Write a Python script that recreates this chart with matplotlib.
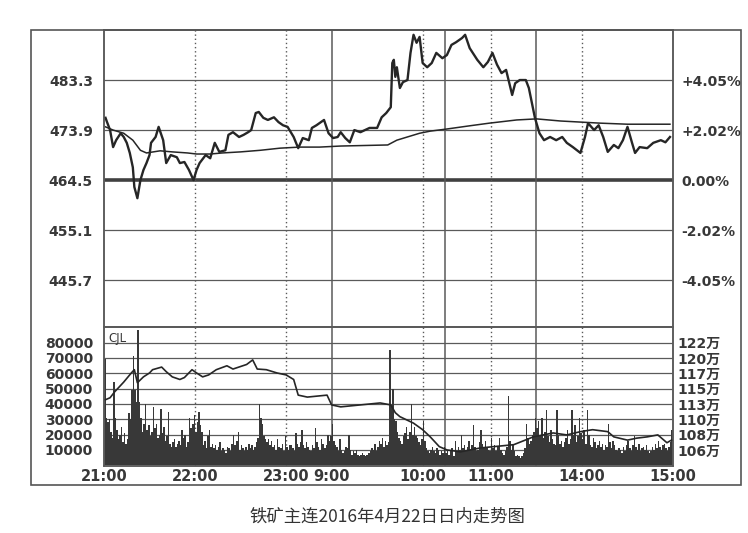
import matplotlib
matplotlib.use("Agg")
import matplotlib.pyplot as plt
from matplotlib.patches import Rectangle

plt.rcParams['font.family'] = ['DejaVu Sans', 'Noto Sans CJK SC']

# minutes since 21:00 on a compressed trading-time axis
# night 21:00-23:30 (0-150), 9:00-10:15 (150-225), 10:30-11:30 (225-285), 13:30-15:00 (285-375)
tick_pos = [0, 60, 120, 150, 210, 255, 315, 375]
tick_labels = ["21:00", "22:00", "23:00", "9:00", "10:00", "11:00", "14:00", "15:00"]
dotted_at = [60, 120, 210, 255, 315]
solid_at = [150, 225, 285]

base_price = 464.5
price_ticks = [445.7, 455.1, 464.5, 473.9, 483.3]
pct_labels = ["-4.05%", "-2.02%", "0.00%", "+2.02%", "+4.05%"]

price_min = [1, 2, 4, 6, 8, 11, 13, 15, 17, 19, 20, 22, 24, 26, 28, 30, 31, 34, 36, 39,
             41, 44, 48, 50, 53, 56, 59, 61, 63, 67, 70, 73, 76, 80, 82, 85, 89, 92, 95, 97,
             100, 102, 105, 108, 112, 115, 118, 121, 125, 128, 131, 135, 137, 140, 145, 148,
             151, 154, 156, 159, 162, 165, 169, 172, 175, 180, 183, 186, 189, 190, 191, 192,
             193, 195, 197, 200, 202, 204, 206, 208, 210, 213, 216, 219, 223, 226, 229, 232,
             236, 238, 241, 246, 250, 253, 256, 259, 262, 265, 269, 271, 274, 278, 280, 282,
             284, 287, 290, 294, 298, 302, 305, 309, 314, 317, 319, 323, 326, 329, 332, 336,
             339, 342, 345, 348, 350, 353, 358, 362, 367, 370, 373]
price = [476.2, 475.4, 473.9, 470.7, 472.0, 473.3, 472.6, 471.5, 469.6, 466.9, 463.2, 461.1,
         464.5, 466.4, 467.7, 469.2, 471.5, 472.6, 474.5, 472.0, 467.7, 469.2, 468.8, 467.7,
         467.9, 466.4, 464.5, 466.4, 467.7, 469.2, 468.6, 471.5, 469.8, 470.1, 473.0, 473.5,
         472.6, 473.0, 473.5, 473.9, 477.1, 477.3, 476.2, 475.8, 476.3, 475.4, 474.8, 474.5,
         472.6, 470.5, 472.4, 472.0, 474.3, 474.8, 475.8, 473.3, 472.4, 472.6, 473.5, 472.4,
         471.6, 473.9, 473.5, 473.9, 474.3, 474.3, 476.3, 477.1, 478.2, 486.5, 487.1, 483.9,
         485.7, 481.8, 482.9, 483.3, 488.4, 491.8, 490.3, 491.4, 486.5, 485.7, 486.5, 488.4,
         487.4, 488.0, 489.9, 490.4, 491.2, 491.8, 489.3, 487.1, 485.7, 486.7, 488.4, 486.2,
         484.6, 485.2, 480.5, 482.7, 483.3, 483.3, 481.8, 479.0, 476.2, 473.3, 472.0, 472.6,
         472.0, 472.6, 471.5, 470.7, 469.6, 472.6, 475.2, 473.9, 474.8, 472.6, 469.8, 471.1,
         470.5, 472.0, 474.5, 471.5, 469.6, 470.7, 470.5, 471.5, 472.0, 471.6, 472.6]

avg_min = [1, 6, 13, 19, 24, 28, 37, 45, 55, 61, 70, 78, 90, 103, 116, 129, 142, 156, 187,
           193, 208, 215, 226, 241, 254, 272, 285, 301, 314, 327, 345, 373]
avg_price = [474.5, 473.9, 473.3, 472.0, 470.1, 469.6, 470.0, 469.8, 469.6, 469.4, 469.4,
             469.6, 469.8, 470.1, 470.5, 470.7, 470.7, 470.9, 471.1, 472.0, 473.3, 473.7,
             474.1, 474.7, 475.2, 475.8, 476.0, 475.6, 475.4, 475.2, 475.0, 475.0]

# volume per minute, thousands of lots
volume_k = [
    69, 31, 28, 30, 22, 18, 54, 31, 23, 17, 20, 25, 15, 21, 14,
    17, 34, 30, 49, 71, 49, 41, 88, 41, 31, 22, 27, 40, 23, 26,
    19, 22, 38, 24, 27, 18, 20, 37, 21, 25, 16, 19, 35, 14, 12,
    15, 17, 12, 14, 16, 13, 23, 18, 20, 12, 15, 31, 24, 27, 33,
    22, 28, 35, 26, 22, 13, 16, 11, 19, 23, 12, 14, 11, 13, 10,
    12, 15, 9, 11, 10, 8, 12, 11, 9, 14, 20, 13, 16, 22, 10,
    13, 11, 9, 12, 10, 14, 11, 13, 10, 12, 15, 18, 40, 31, 27,
    19, 17, 15, 17, 13, 16, 12, 13, 10, 17, 12, 11, 14, 9, 19,
    12, 10, 13, 13, 11, 9, 21, 14, 12, 15, 23, 13, 11, 15, 12,
    10, 9, 13, 11, 24, 15, 12, 10, 17, 14, 11, 13, 20, 16, 19,
    27, 16, 13, 12, 9, 17, 10, 8, 9, 12, 11, 20, 10, 7, 9,
    8, 10, 7, 6, 7, 8, 7, 6, 7, 8, 9, 11, 10, 14, 9,
    12, 16, 14, 18, 12, 16, 13, 15, 75, 38, 50, 30, 29, 22, 18,
    16, 14, 19, 21, 25, 17, 22, 40, 20, 25, 19, 18, 15, 13, 17,
    29, 16, 11, 9, 8, 10, 12, 9, 8, 11, 10, 7, 9, 8, 12,
    8, 9, 7, 10, 11, 6, 16, 9, 12, 10, 20, 11, 13, 9, 12,
    16, 10, 13, 26, 12, 9, 10, 15, 23, 14, 11, 16, 12, 10, 9,
    18, 11, 13, 9, 12, 18, 10, 8, 7, 9, 12, 45, 16, 10, 13,
    9, 6, 7, 6, 5, 6, 8, 11, 27, 18, 14, 16, 20, 22, 31,
    24, 29, 20, 31, 18, 22, 36, 19, 15, 23, 17, 14, 13, 36, 20,
    14, 16, 12, 15, 18, 23, 14, 17, 36, 20, 26, 15, 19, 31, 21,
    17, 23, 14, 36, 20, 13, 12, 18, 15, 11, 13, 16, 12, 14, 10,
    13, 12, 27, 15, 11, 16, 13, 10, 9, 11, 10, 8, 12, 9, 13,
    16, 11, 9, 13, 19, 12, 10, 14, 9, 11, 12, 10, 13, 9, 8,
    9, 12, 10, 14, 11, 16, 12, 10, 13, 14, 11, 9, 12, 15, 23,
]

vol_ticks = [10000, 20000, 30000, 40000, 50000, 60000, 70000, 80000]
oi_labels = ["106万", "108万", "110万", "113万", "115万", "117万", "120万", "122万"]

# open interest, 万 lots
oi_min = [1, 4, 7, 13, 18, 20, 22, 26, 30, 32, 38, 41, 45, 50, 53, 58, 61, 65, 69, 74, 81,
          85, 94, 98, 101, 107, 114, 120, 125, 128, 134, 147, 150, 156, 182, 189, 192, 195,
          204, 210, 215, 221, 226, 235, 248, 270, 283, 296, 305, 314, 322, 332, 336, 345,
          351, 358, 365, 371, 374]
oi = [113.7, 114.0, 114.9, 116.4, 117.8, 118.3, 116.3, 117.2, 117.8, 118.3, 118.7, 118.0,
      117.2, 116.8, 117.1, 118.3, 117.8, 117.2, 117.5, 118.3, 118.9, 118.4, 119.1, 119.8,
      118.4, 118.3, 117.8, 117.5, 116.8, 114.4, 114.1, 114.4, 112.9, 112.6, 113.2, 112.9,
      111.7, 111.1, 110.1, 109.1, 108.0, 106.5, 106.0, 105.7, 106.3, 106.8, 108.0, 108.6,
      108.3, 108.8, 109.1, 108.8, 108.0, 107.5, 107.8, 108.0, 108.3, 107.1, 107.5]

W, H = 748, 533
fig = plt.figure(figsize=(W / 100, H / 100), dpi=100)

def fx(px):
    return px / W

def fy(py):
    return 1 - py / H

left, right = 104, 673
top, mid, bottom = 30, 327, 466
ax = fig.add_axes([fx(left), fy(mid), fx(right - left), fy(top) - fy(mid)])
axv = fig.add_axes([fx(left), fy(bottom), fx(right - left), fy(mid) - fy(bottom)])

line_c = '#262626'
grid_c = '#5a5a5a'
text_c = '#383838'
lab_size = 10

# price panel
ax.set_xlim(0, 375)
ax.set_ylim(436.9, 492.7)
for p in price_ticks:
    if p == base_price:
        ax.axhline(p, color='#404040', lw=2.6, zorder=1)
    else:
        ax.axhline(p, color=grid_c, lw=0.9, zorder=1)
for x in dotted_at:
    ax.axvline(x, color=grid_c, lw=1.0, ls=(0, (1, 2)), zorder=1)
    axv.axvline(x, color=grid_c, lw=1.0, ls=(0, (1, 2)), zorder=1)
for x in solid_at:
    ax.axvline(x, color=grid_c, lw=1.1, zorder=1)
    axv.axvline(x, color=grid_c, lw=1.1, zorder=1)

ax.plot(avg_min, avg_price, color=line_c, lw=1.1, zorder=3)
ax.plot(price_min, price, color=line_c, lw=1.7, zorder=4)

ax.set_yticks(price_ticks)
ax.set_yticklabels([f"{p:.1f}" for p in price_ticks])
ax.set_xticks([])
ax.tick_params(axis='y', length=0, pad=8, labelsize=lab_size, labelcolor=text_c)
for lab in ax.get_yticklabels():
    lab.set_fontweight('bold')

axp = ax.twinx()
axp.set_ylim(ax.get_ylim())
axp.set_yticks(price_ticks)
axp.set_yticklabels(pct_labels)
axp.tick_params(axis='y', length=0, pad=6, labelsize=lab_size, labelcolor=text_c)
for lab in axp.get_yticklabels():
    lab.set_fontweight('bold')

for a in (ax, axp):
    for s in a.spines.values():
        s.set_color(grid_c)
        s.set_linewidth(1.1)

# volume panel
axv.set_xlim(0, 375)
axv.set_ylim(-500, 90200)
for v in vol_ticks:
    axv.axhline(v, color=grid_c, lw=0.9, zorder=1)
axv.bar([i + 0.5 for i in range(len(volume_k))], [v * 1000 for v in volume_k],
        width=1.0, color='#383838', edgecolor='none', zorder=2)
axv.set_yticks(vol_ticks)
axv.set_yticklabels([str(v) for v in vol_ticks])
axv.set_xticks(tick_pos)
axv.set_xticklabels(tick_labels)
axv.tick_params(axis='y', length=0, pad=8, labelsize=lab_size, labelcolor=text_c)
axv.tick_params(axis='x', length=0, pad=2, labelsize=10.5, labelcolor=text_c)
for lab in axv.get_yticklabels() + axv.get_xticklabels():
    lab.set_fontweight('bold')
axv.text(3, 87000, "CJL", fontsize=8.5, color=text_c, va='top', ha='left')

# open interest on right scale: gridline k <-> 106 + k*2.35 万
axo = axv.twinx()
lo = 106 + (-500 / 10000 - 1) * 2.35
hi = 106 + (90200 / 10000 - 1) * 2.35
axo.set_ylim(lo, hi)
axo.plot(oi_min, oi, color=line_c, lw=1.2, zorder=3)
axo.set_yticks([106 + k * 2.35 for k in range(8)])
axo.set_yticklabels(oi_labels)
axo.tick_params(axis='y', length=0, pad=3, labelsize=lab_size, labelcolor=text_c)
for lab in axo.get_yticklabels():
    lab.set_fontweight('bold')

for a in (axv, axo):
    for s in a.spines.values():
        s.set_color(grid_c)
        s.set_linewidth(1.1)

# outer frame
fig.patches.append(Rectangle((fx(31), fy(485)), fx(741 - 31), fy(30) - fy(485),
                             transform=fig.transFigure, fill=False,
                             edgecolor='#555555', lw=1.2))

fig.text(fx(387), fy(517), "铁矿主连2016年4月22日日内走势图", ha='center', va='center',
         fontsize=12.5, color='#333333', family=['Noto Sans CJK SC', 'DejaVu Sans'])

fig.savefig("out.png", dpi=100)
